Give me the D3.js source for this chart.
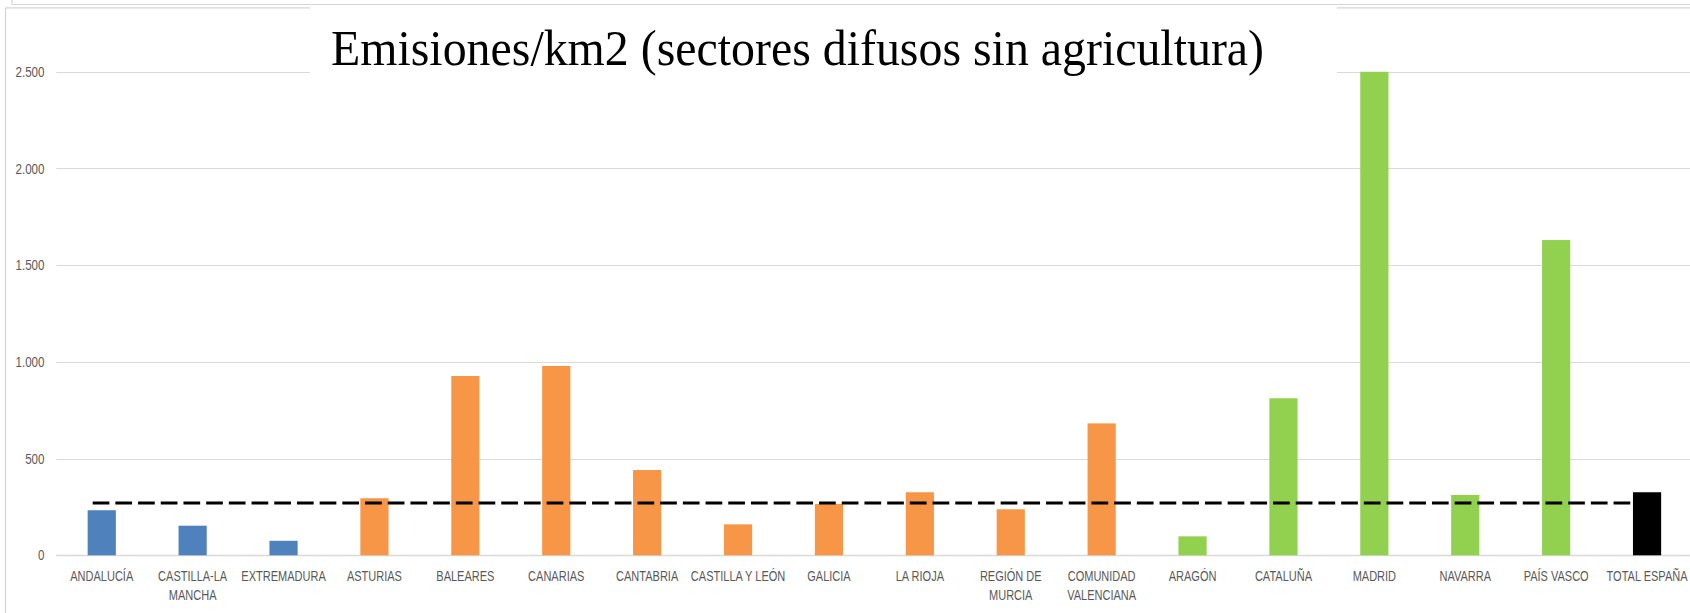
<!DOCTYPE html>
<html>
<head>
<meta charset="utf-8">
<script src="https://cdn.jsdelivr.net/npm/d3@7"></script>
<style>
  html, body { margin: 0; padding: 0; background: #ffffff; }
  svg { display: block; }
</style>
</head>
<body>
<svg id="chart" width="1690" height="613"></svg>
<script>
// ---- data ----
const categories = ["ANDALUCÍA", "CASTILLA-LA MANCHA", "EXTREMADURA", "ASTURIAS", "BALEARES", "CANARIAS",
  "CANTABRIA", "CASTILLA Y LEÓN", "GALICIA", "LA RIOJA", "REGIÓN DE MURCIA", "COMUNIDAD VALENCIANA",
  "ARAGÓN", "CATALUÑA", "MADRID", "NAVARRA", "PAÍS VASCO", "TOTAL ESPAÑA"];
const categoryLabels = [["ANDALUCÍA"], ["CASTILLA-LA", "MANCHA"], ["EXTREMADURA"], ["ASTURIAS"], ["BALEARES"], ["CANARIAS"],
  ["CANTABRIA"], ["CASTILLA Y LEÓN"], ["GALICIA"], ["LA RIOJA"], ["REGIÓN DE", "MURCIA"], ["COMUNIDAD", "VALENCIANA"],
  ["ARAGÓN"], ["CATALUÑA"], ["MADRID"], ["NAVARRA"], ["PAÍS VASCO"], ["TOTAL ESPAÑA"]];
const values = [233, 153, 75, 295, 927, 979, 441, 160, 265, 326, 238, 682, 98, 812, 2500, 312, 1630, 326];
const groups = ["blue", "blue", "blue", "orange", "orange", "orange", "orange", "orange", "orange", "orange",
  "orange", "orange", "green", "green", "green", "green", "green", "total"];
const groupColors = { blue: "#4f81bd", orange: "#f79646", green: "#92d050", total: "#000000" };
const referenceValue = 271;   // media España (línea discontinua)
const yTicks = [0, 500, 1000, 1500, 2000, 2500];
const yTickLabels = ["0", "500", "1.000", "1.500", "2.000", "2.500"];
const title = "Emisiones/km2 (sectores difusos sin agricultura)";

// ---- layout ----
const W = 1690, H = 613;
const svg = d3.select("#chart");
const plotLeft = 56.3, plotRight = 1692.5, plotBottom = 555.3, plotTop = 71.8;
const labelFont = "'Liberation Sans', Arial, sans-serif";

const x = d3.scaleBand().domain(categories).range([plotLeft, plotRight])
  .paddingInner(0.69).paddingOuter(0.345);
const y = d3.scaleLinear().domain([0, 2500]).range([plotBottom, plotTop]);

// frames
svg.append("line").attr("x1", 12).attr("x2", W).attr("y1", 4.5).attr("y2", 4.5)
  .attr("stroke", "#d4d4d4").attr("stroke-width", 1.2);
svg.append("line").attr("x1", 12).attr("x2", 12).attr("y1", 0).attr("y2", 4.5)
  .attr("stroke", "#d4d4d4").attr("stroke-width", 1.2);
svg.append("line").attr("x1", 5.5).attr("x2", W).attr("y1", 7.8).attr("y2", 7.8)
  .attr("stroke", "#d4d4d4").attr("stroke-width", 1.2);
svg.append("line").attr("x1", 5.5).attr("x2", 5.5).attr("y1", 7.8).attr("y2", H)
  .attr("stroke", "#d4d4d4").attr("stroke-width", 1.2);

// gridlines
svg.append("g").selectAll("line").data(yTicks).join("line")
  .attr("x1", plotLeft).attr("x2", W)
  .attr("y1", d => Math.round(y(d)) + 0.5).attr("y2", d => Math.round(y(d)) + 0.5)
  .attr("stroke", "#d9d9d9").attr("stroke-width", d => d === 0 ? 1.4 : 1.1);

// y tick labels
svg.append("g").selectAll("text").data(yTicks).join("text")
  .attr("transform", d => `translate(44.5,${y(d) + 5}) scale(0.8,1)`)
  .attr("text-anchor", "end")
  .attr("font-family", labelFont)
  .attr("font-size", 14.5).attr("fill", "#595959")
  .text((d, i) => yTickLabels[i]);

// title background box
svg.append("rect").attr("x", 310).attr("y", 6).attr("width", 1027).attr("height", 94).attr("fill", "#ffffff");

// bars
svg.append("g").selectAll("rect").data(values).join("rect")
  .attr("x", (d, i) => x(categories[i]))
  .attr("width", x.bandwidth())
  .attr("y", d => y(Math.min(d, 2500)))
  .attr("height", d => y(0) - y(Math.min(d, 2500)))
  .attr("fill", (d, i) => groupColors[groups[i]]);

// reference dashed line
svg.append("line")
  .attr("x1", x(categories[0]) + 5).attr("x2", x(categories[categories.length - 1]))
  .attr("y1", y(referenceValue)).attr("y2", y(referenceValue))
  .attr("stroke", "#000000").attr("stroke-width", 3)
  .attr("stroke-dasharray", "16.7,6");

// category labels
const lab = svg.append("g").selectAll("text").data(categoryLabels).join("text")
  .attr("text-anchor", "middle")
  .attr("font-family", labelFont)
  .attr("font-size", 14.5).attr("fill", "#595959")
  .attr("transform", (d, i) => `translate(${x(categories[i]) + x.bandwidth() / 2},581) scale(0.76,1)`);
lab.selectAll("tspan").data(d => d).join("tspan")
  .attr("x", 0).attr("dy", (d, j) => j === 0 ? 0 : 18.7)
  .text(d => d);

// title
svg.append("text")
  .attr("x", 331).attr("y", 65)
  .attr("font-family", "'Liberation Serif', 'Times New Roman', serif")
  .attr("font-size", 51).attr("fill", "#000000")
  .attr("textLength", 933).attr("lengthAdjust", "spacingAndGlyphs")
  .text(title);
</script>
</body>
</html>
